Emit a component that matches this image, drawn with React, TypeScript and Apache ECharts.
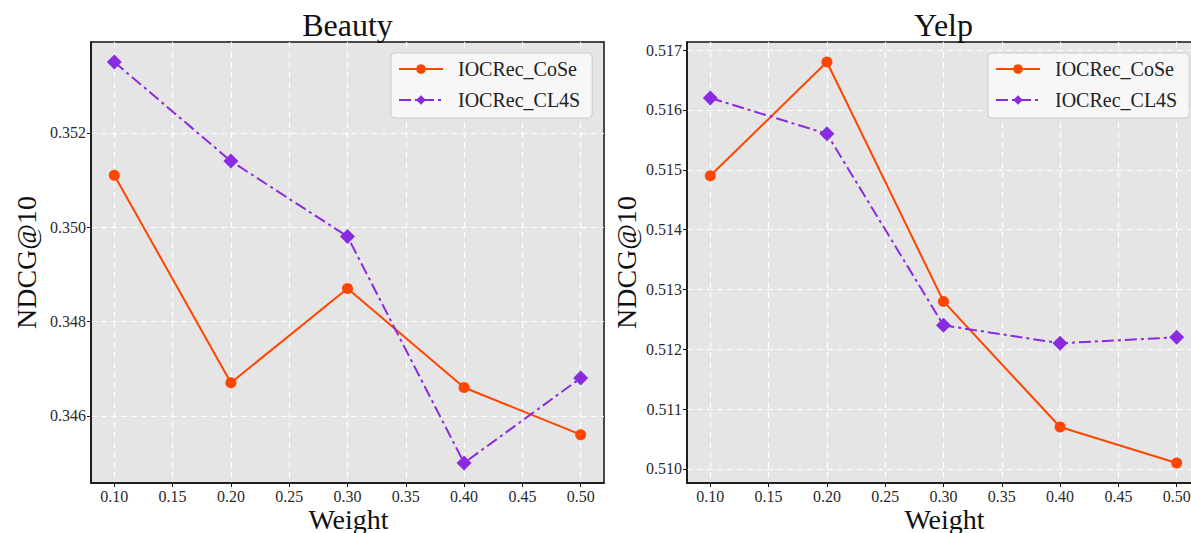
import React, { useEffect, useRef } from "react";
import * as echarts from "echarts";

const weights = [0.1, 0.2, 0.3, 0.4, 0.5];
const xTicks = [0.1, 0.15, 0.2, 0.25, 0.3, 0.35, 0.4, 0.45, 0.5];
const titles = ["Beauty", "Yelp"];
const xAxisTitle = "Weight";
const seriesNames = ["IOCRec_CoSe", "IOCRec_CL4S"];
const beautyCoSe = [0.3511, 0.3467, 0.3487, 0.3466, 0.3456];
const beautyCL4S = [0.3535, 0.3514, 0.3498, 0.345, 0.3468];
const yelpCoSe = [0.5149, 0.5168, 0.5128, 0.5107, 0.5101];
const yelpCL4S = [0.5162, 0.5156, 0.5124, 0.5121, 0.5122];
const beautyTicks = [0.346, 0.348, 0.35, 0.352];
const yelpTicks = [0.51, 0.511, 0.512, 0.513, 0.514, 0.515, 0.516, 0.517];

const FONT = "Liberation Serif";
const COLORS = ["#ff4500", "#8a2be2"];
const GRID_LEFT = [91, 687];
const GRID_TOP = 42;
const GRID_W = 513;
const GRID_H = 441;
const LEGEND_LEFT = [391, 988];

function paddedRange(vals: number[]) {
  const lo = Math.min(...vals);
  const hi = Math.max(...vals);
  const m = (hi - lo) * 0.05;
  return [lo - m, hi + m];
}

export default function App() {
  const ref = useRef<HTMLDivElement>(null);
  useEffect(() => {
    if (!ref.current) return;
    const chart = echarts.init(ref.current, null, { renderer: "svg" });
    const panels = [
      { data: [beautyCoSe, beautyCL4S], ticks: beautyTicks },
      { data: [yelpCoSe, yelpCL4S], ticks: yelpTicks },
    ];
    const xr = paddedRange(weights);
    const tickText = { fontFamily: FONT, fontSize: 16, color: "#2a2a2a" };
    const option: any = {
      animation: false,
      backgroundColor: "#ffffff",
      textStyle: { fontFamily: FONT },
      grid: panels.map((_, i) => ({
        left: GRID_LEFT[i],
        top: GRID_TOP,
        width: GRID_W,
        height: GRID_H,
        show: true,
        containLabel: false,
        outerBoundsMode: "none",
        backgroundColor: "#e5e5e5",
        borderColor: "#111111",
        borderWidth: 1.5,
      })),
      xAxis: panels.map((_, i) => ({
        type: "value",
        gridIndex: i,
        min: xr[0],
        max: xr[1],
        axisLine: { show: true, onZero: false, lineStyle: { color: "#111", width: 1.5 } },
        axisTick: { show: true, customValues: xTicks, length: 4, lineStyle: { color: "#111", width: 1 } },
        axisLabel: {
          customValues: xTicks,
          formatter: (v: number) => v.toFixed(2),
          margin: 5,
          ...tickText,
        },
        splitLine: { show: true, lineStyle: { color: "#ffffff", type: [6, 4], width: 1.2 } },
      })),
      yAxis: panels.map((p, i) => {
        const yr = paddedRange([...p.data[0], ...p.data[1]]);
        return {
          type: "value",
          gridIndex: i,
          min: yr[0],
          max: yr[1],
          name: "NDCG@10",
          nameLocation: "middle",
          nameGap: i === 0 ? 51 : 47,
          nameTextStyle: { fontFamily: FONT, fontSize: 28, color: "#111" },
          axisLine: { show: true, onZero: false, lineStyle: { color: "#111", width: 1.5 } },
          axisTick: { show: true, customValues: p.ticks, length: 4, lineStyle: { color: "#111", width: 1 } },
          axisLabel: {
            customValues: p.ticks,
            formatter: (v: number) => v.toFixed(3),
            margin: 5,
            ...tickText,
          },
          splitLine: { show: true, lineStyle: { color: "#ffffff", type: [6, 4], width: 1.2 } },
        };
      }),
      legend: panels.map((_, i) => ({
        orient: "vertical",
        left: LEGEND_LEFT[i],
        top: 53,
        data: seriesNames,
        itemWidth: 44,
        itemHeight: 12,
        itemGap: 11,
        padding: [6, 12, 8, 7],
        backgroundColor: "#f7f7f7",
        borderColor: "#cccccc",
        borderWidth: 1,
        borderRadius: 4,
        selectedMode: false,
        textStyle: { fontFamily: FONT, fontSize: 20, color: "#222", padding: [0, 0, 0, 10] },
      })),
      graphic: [
        ...titles.map((t, i) => ({
          type: "text",
          x: GRID_LEFT[i] + GRID_W / 2,
          y: 25,
          style: {
            text: t,
            align: "center",
            verticalAlign: "middle",
            font: `32px ${FONT}`,
            fill: "#111",
          },
        })),
        ...titles.map((_, i) => ({
          type: "text",
          x: GRID_LEFT[i] + GRID_W / 2 + 1,
          y: 519,
          style: {
            text: xAxisTitle,
            align: "center",
            verticalAlign: "middle",
            font: `28px ${FONT}`,
            fill: "#111",
          },
        })),
      ],
      series: panels.flatMap((p, i) =>
        p.data.map((vals, k) => ({
          type: "line",
          name: seriesNames[k],
          xAxisIndex: i,
          yAxisIndex: i,
          data: weights.map((w, j) => [w, vals[j]]),
          symbol: k === 0 ? "circle" : "diamond",
          symbolSize: k === 0 ? 11 : 15,
          lineStyle: { color: COLORS[k], width: 2, type: k === 0 ? "solid" : [12, 4, 3, 4] },
          itemStyle: { color: COLORS[k] },
          z: 3 + k,
        }))
      ),
    };
    chart.setOption(option);
    return () => chart.dispose();
  }, []);
  return (
    <div
      ref={ref}
      style={{ position: "fixed", left: 0, top: 0, width: 1210, height: 533, background: "#fff" }}
    />
  );
}
